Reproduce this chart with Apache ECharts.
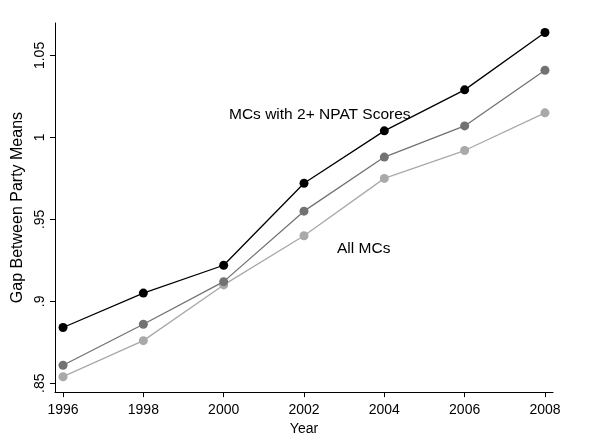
<!DOCTYPE html>
<html>
<head>
<meta charset="utf-8">
<script src="https://cdn.jsdelivr.net/npm/echarts@6/dist/echarts.min.js"></script>
<style>
html,body{margin:0;padding:0;background:#fff;}
#chart{width:611px;height:441px;}
</style>
</head>
<body>
<div id="chart"></div>
<script>
var years = [1996, 1998, 2000, 2002, 2004, 2006, 2008];
var npatValues = [0.884, 0.905, 0.922, 0.972, 1.004, 1.029, 1.064];
var midValues = [0.861, 0.886, 0.912, 0.955, 0.988, 1.007, 1.041];
var allValues = [0.854, 0.876, 0.910, 0.940, 0.975, 0.992, 1.015];
var yTicks = [0.85, 0.9, 0.95, 1, 1.05];
var yTickLabels = ['.85', '.9', '.95', '1', '1.05'];
var labelNpat = 'MCs with 2+ NPAT Scores';
var labelAll = 'All MCs';

function pairs(vals) { return years.map(function (y, i) { return [y, vals[i]]; }); }
var font = 'Liberation Sans, Arial, Helvetica, sans-serif';

var chart = echarts.init(document.getElementById('chart'));
chart.setOption({
  animation: false,
  backgroundColor: '#fff',
  grid: { left: 55, right: 58, top: 23, bottom: 42, containLabel: false },
  xAxis: {
    type: 'value', min: 1995.8, max: 2008.2,
    name: 'Year', nameLocation: 'middle', nameGap: 29,
    nameTextStyle: { color: '#000', fontSize: 14, fontFamily: font },
    axisLine: { show: true, lineStyle: { color: '#000', width: 1 } },
    axisTick: { show: true, length: 5, customValues: years, lineStyle: { color: '#000' } },
    axisLabel: { customValues: years, color: '#000', fontSize: 14, fontFamily: font, margin: 11,
      formatter: function (v) { return String(v); } },
    splitLine: { show: false }
  },
  yAxis: {
    type: 'value', min: 0.8446, max: 1.0698,
    name: 'Gap Between Party Means', nameLocation: 'middle', nameGap: 27,
    nameTextStyle: { color: '#000', fontSize: 16, fontFamily: font },
    axisLine: { show: true, lineStyle: { color: '#000', width: 1 } },
    axisTick: { show: true, length: 5, customValues: yTicks, lineStyle: { color: '#000' } },
    axisLabel: { customValues: yTicks, rotate: 90, color: '#000', fontSize: 14, fontFamily: font, margin: 8,
      formatter: function (v) {
        for (var i = 0; i < yTicks.length; i++) { if (Math.abs(yTicks[i] - v) < 1e-6) return yTickLabels[i]; }
        return '';
      } },
    splitLine: { show: false }
  },
  series: [
    { type: 'line', data: pairs(allValues), symbol: 'circle', symbolSize: 9,
      lineStyle: { color: '#a9a9a9', width: 1.3 }, itemStyle: { color: '#a9a9a9' }, z: 2 },
    { type: 'line', data: pairs(midValues), symbol: 'circle', symbolSize: 9,
      lineStyle: { color: '#727272', width: 1.3 }, itemStyle: { color: '#727272' }, z: 3 },
    { type: 'line', data: pairs(npatValues), symbol: 'circle', symbolSize: 9,
      lineStyle: { color: '#000', width: 1.3 }, itemStyle: { color: '#000' }, z: 4 }
  ],
  graphic: [
    { type: 'text', left: 229, top: 107, style: { text: labelNpat, fill: '#000', font: '15.5px ' + font } },
    { type: 'text', left: 337, top: 241, style: { text: labelAll, fill: '#000', font: '15.5px ' + font } }
  ]
});
</script>
</body>
</html>
